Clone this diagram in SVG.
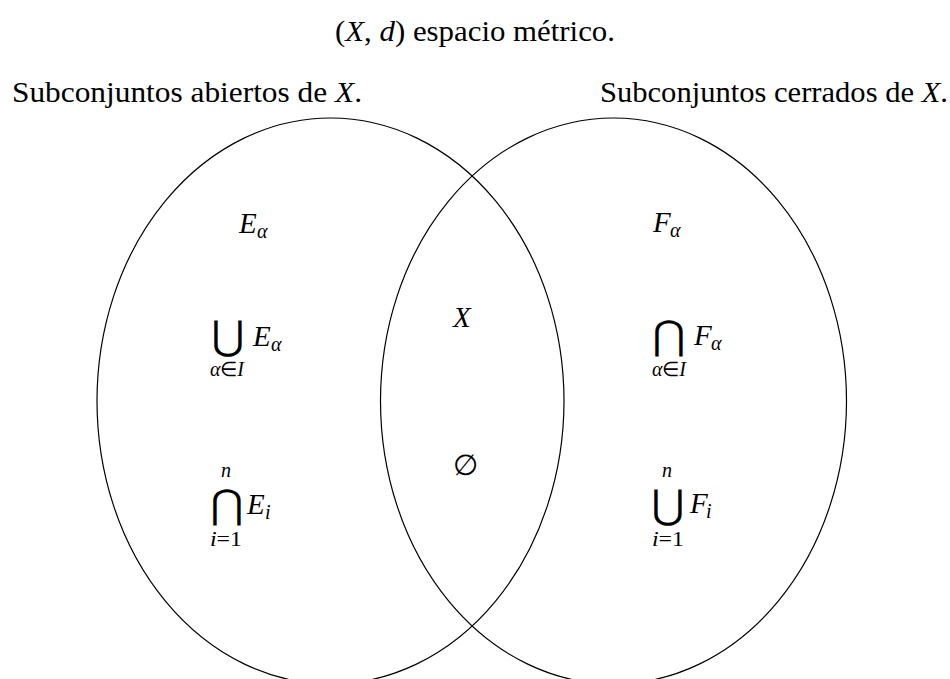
<svg xmlns="http://www.w3.org/2000/svg" width="950" height="679" viewBox="0 0 950 679">
<style>
.t{font-family:"Liberation Serif",serif;font-size:29px;fill:#000}
.m{font-family:"Liberation Serif",serif;font-style:italic;font-size:29px;fill:#000}
.s{font-family:"Liberation Serif",serif;font-style:italic;font-size:20px;fill:#000}
.op{font-family:"DejaVu Sans",sans-serif;font-size:40px;fill:#000}
.e{fill:none;stroke:#000;stroke-width:1.2}
</style>
<rect width="950" height="679" fill="#fff"/>
<g id="labels">
<text class="t" x="335" y="41" textLength="280" lengthAdjust="spacingAndGlyphs">(<tspan font-style="italic">X</tspan>, <tspan font-style="italic">d</tspan>) espacio métrico.</text>
<text class="t" x="12" y="102" textLength="350" lengthAdjust="spacingAndGlyphs">Subconjuntos abiertos de <tspan font-style="italic">X</tspan>.</text>
<text class="t" x="600" y="102" textLength="348" lengthAdjust="spacingAndGlyphs">Subconjuntos cerrados de <tspan font-style="italic">X</tspan>.</text>
</g>
<g id="connectors">
<ellipse id="open-sets" class="e" cx="330.5" cy="401" rx="233.5" ry="283"/>
<ellipse id="closed-sets" class="e" cx="613.5" cy="401" rx="233" ry="283"/>
</g>
<g id="node-E-alpha"><text class="m" x="239" y="233">E</text><text class="s" x="257" y="238">α</text></g>
<g id="node-union-E">
<text class="op" x="228" y="349" text-anchor="middle">⋃</text>
<text class="m" x="253" y="346">E</text><text class="s" x="271" y="351">α</text>
<text class="s" x="210" y="376" textLength="34" lengthAdjust="spacingAndGlyphs">α<tspan font-style="normal">∈</tspan>I</text>
</g>
<g id="node-inter-E">
<text class="s" x="221" y="477">n</text>
<text class="op" x="227" y="518" text-anchor="middle">⋂</text>
<text class="m" x="247" y="514">E</text><text class="s" x="265" y="519">i</text>
<text class="s" x="210" y="546" textLength="32" lengthAdjust="spacingAndGlyphs">i<tspan font-style="normal">=1</tspan></text>
</g>
<g id="node-X"><text class="m" x="453" y="327">X</text></g>
<g id="node-empty"><text class="t" x="453" y="475">∅</text></g>
<g id="node-F-alpha"><text class="m" x="653" y="232">F</text><text class="s" x="670" y="237">α</text></g>
<g id="node-inter-F">
<text class="op" x="669" y="349" text-anchor="middle">⋂</text>
<text class="m" x="694" y="345">F</text><text class="s" x="711" y="350">α</text>
<text class="s" x="652" y="376" textLength="34" lengthAdjust="spacingAndGlyphs">α<tspan font-style="normal">∈</tspan>I</text>
</g>
<g id="node-union-F">
<text class="s" x="662" y="477">n</text>
<text class="op" x="668" y="518" text-anchor="middle">⋃</text>
<text class="m" x="690" y="513">F</text><text class="s" x="706" y="518">i</text>
<text class="s" x="652" y="546" textLength="32" lengthAdjust="spacingAndGlyphs">i<tspan font-style="normal">=1</tspan></text>
</g>
</svg>
